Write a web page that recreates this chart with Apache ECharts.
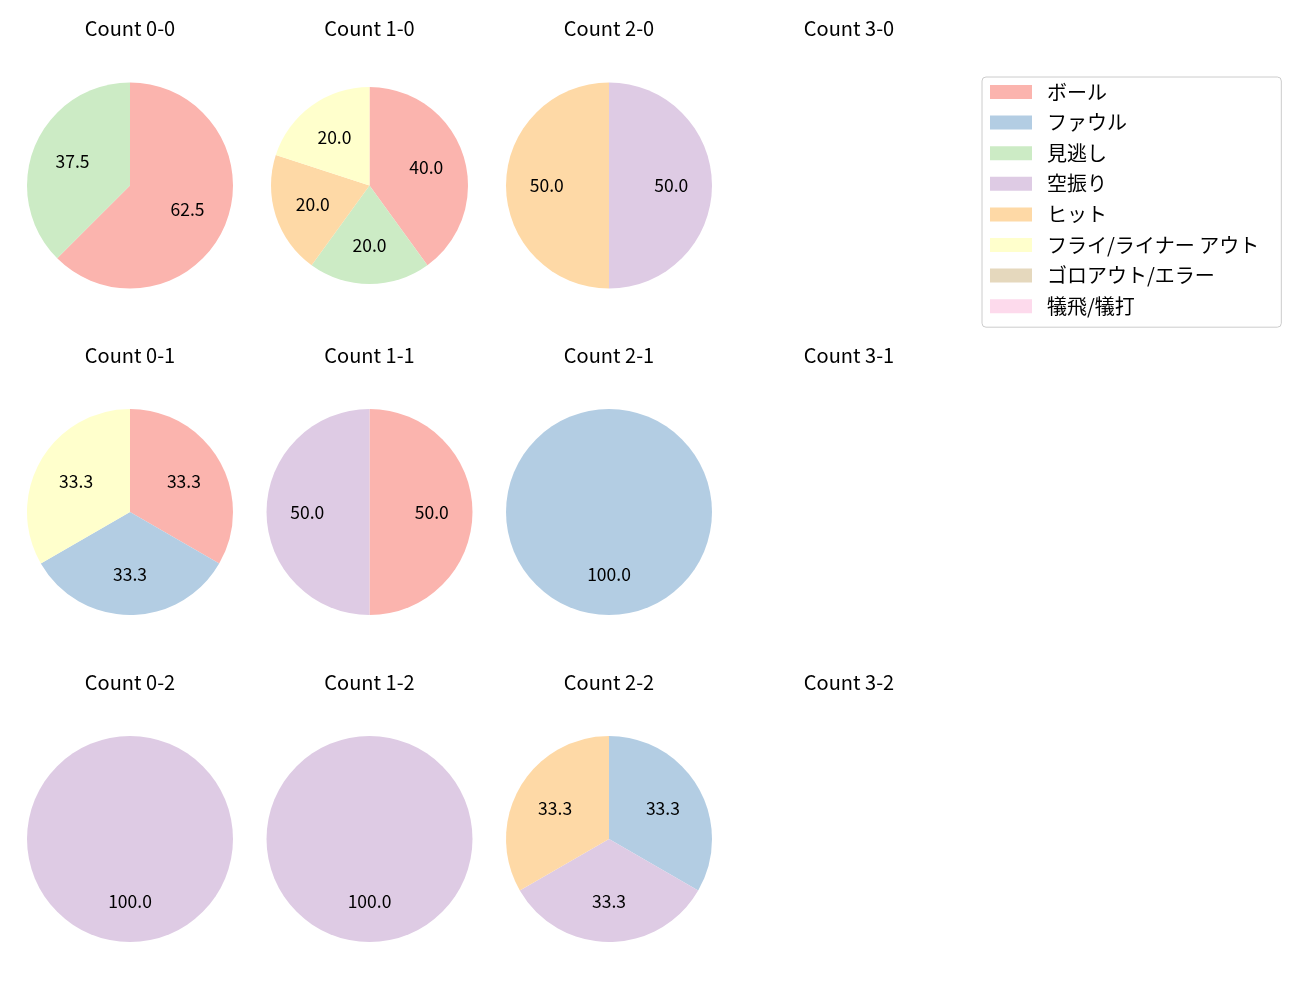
<!DOCTYPE html>
<html>
<head>
<meta charset="utf-8">
<script src="https://cdn.jsdelivr.net/npm/echarts@6/dist/echarts.min.js"></script>
<style>
  html, body { margin: 0; padding: 0; background: #fff; }
  #main { width: 1300px; height: 1000px; }
</style>
</head>
<body>
<div id="main"></div>
<script>
// 球種結果カテゴリ
const categories = ['ボール', 'ファウル', '見逃し', '空振り', 'ヒット', 'フライ/ライナー アウト', 'ゴロアウト/エラー', '犠飛/犠打']
const colors = ['#fbb4ae', '#b3cde3', '#ccebc5', '#decbe4', '#fed9a6', '#ffffcc', '#e5d8bd', '#fddaec']

// カウント別の割合 (%)
const countLabels = ['0-0', '1-0', '2-0', '3-0', '0-1', '1-1', '2-1', '3-1', '0-2', '1-2', '2-2', '3-2']
const count00 = [62.5, 0, 37.5, 0, 0, 0, 0, 0]
const count10 = [40.0, 0, 20.0, 0, 20.0, 20.0, 0, 0]
const count20 = [0, 0, 0, 50.0, 50.0, 0, 0, 0]
const count30 = [0, 0, 0, 0, 0, 0, 0, 0]
const count01 = [33.3, 33.3, 0, 0, 0, 33.3, 0, 0]
const count11 = [50.0, 0, 0, 50.0, 0, 0, 0, 0]
const count21 = [0, 100.0, 0, 0, 0, 0, 0, 0]
const count31 = [0, 0, 0, 0, 0, 0, 0, 0]
const count02 = [0, 0, 0, 100.0, 0, 0, 0, 0]
const count12 = [0, 0, 0, 100.0, 0, 0, 0, 0]
const count22 = [0, 33.3, 0, 33.3, 33.3, 0, 0, 0]
const count32 = [0, 0, 0, 0, 0, 0, 0, 0]
const countValues = [count00, count10, count20, count30, count01, count11, count21, count31, count02, count12, count22, count32]

// レイアウト
const colX = [130, 369.5, 609, 849]
const rowY = [185.5, 512, 839]
const radii = [103, 98.5, 103, 103, 103, 103, 103, 103, 103, 103, 103, 103]
const font = 'Noto Sans CJK JP'

const chart = echarts.init(document.getElementById('main'))

const titles = []
const series = []
countValues.forEach((vals, i) => {
  const cx = colX[i % 4]
  const cy = rowY[Math.floor(i / 4)]
  const R = radii[i]
  titles.push({
    text: 'Count ' + countLabels[i],
    left: cx,
    top: rowY[Math.floor(i / 4)] - 167,
    textAlign: 'center',
    padding: 0,
    textStyle: { fontFamily: font, fontSize: 20, fontWeight: 'normal', color: '#000' }
  })
  // 扇形
  series.push({
    type: 'pie',
    center: [cx, cy],
    radius: [0, R],
    startAngle: 90,
    clockwise: true,
    stillShowZeroSum: false,
    showEmptyCircle: false,
    animation: false,
    silent: true,
    label: { show: false },
    labelLine: { show: false },
    data: categories.map((c, k) => ({ name: c, value: vals[k], itemStyle: { color: colors[k] } }))
  })
  // ラベル (半径0.6付近)
  series.push({
    type: 'pie',
    center: [cx, cy],
    radius: [0.15 * R, R],
    startAngle: 90,
    clockwise: true,
    stillShowZeroSum: false,
    showEmptyCircle: false,
    animation: false,
    silent: true,
    legendHoverLink: false,
    itemStyle: { color: 'rgba(0,0,0,0)' },
    label: {
      show: true,
      position: 'inside',
      fontFamily: font,
      fontSize: 17.5,
      color: '#000',
      formatter: p => (p.value > 0 ? p.value.toFixed(1) : '')
    },
    labelLine: { show: false },
    data: categories.map((c, k) => ({ name: c, value: vals[k] }))
  })
})

chart.setOption({
  animation: false,
  title: titles,
  legend: {
    data: categories,
    orient: 'vertical',
    left: 982,
    top: 77,
    padding: [5, 22, 11, 8],
    itemWidth: 42,
    itemHeight: 14,
    itemGap: 10.6,
    icon: 'rect',
    selectedMode: false,
    borderColor: '#cccccc',
    borderWidth: 1,
    borderRadius: 4,
    textStyle: { fontFamily: font, fontSize: 20, color: '#000', lineHeight: 20, padding: [0, 0, 0, 10] }
  },
  series: series
})
</script>
</body>
</html>
